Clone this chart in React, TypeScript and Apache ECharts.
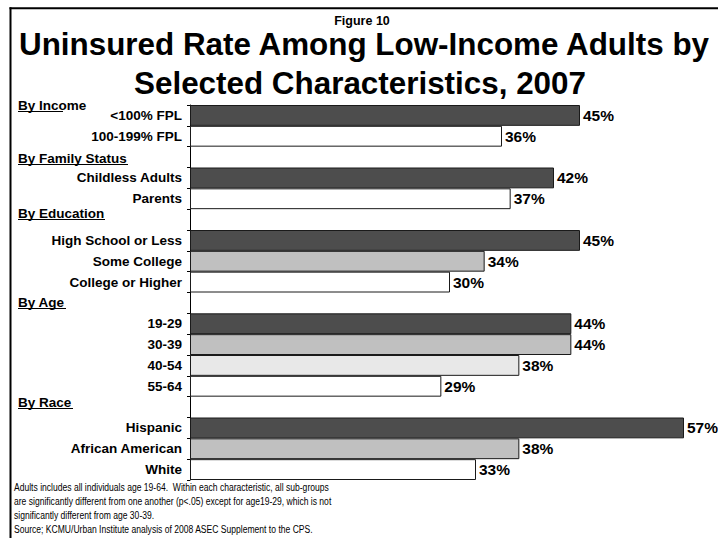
import React, { useEffect, useRef } from "react";
import * as echarts from "echarts";

const figureLabel = "Figure 10";
const titleLines = [
  "Uninsured Rate Among Low-Income Adults by",
  "Selected Characteristics, 2007",
];
const headers = ["By Income", "By Family Status", "By Education", "By Age", "By Race"];
const categories = [
  "<100% FPL", "100-199% FPL", "By Family Status",
  "Childless Adults", "Parents", "By Education",
  "High School or Less", "Some College", "College or Higher", "By Age",
  "19-29", "30-39", "40-54", "55-64", "By Race",
  "Hispanic", "African American", "White",
];
const values: (number | null)[] = [
  45, 36, null,
  42, 37, null,
  45, 34, 30, null,
  44, 44, 38, 29, null,
  57, 38, 33,
];
const barColors = [
  "#4d4d4d", "#ffffff", "#ffffff",
  "#4d4d4d", "#ffffff", "#ffffff",
  "#4d4d4d", "#c0c0c0", "#ffffff", "#ffffff",
  "#4d4d4d", "#c0c0c0", "#e8e8e8", "#ffffff", "#ffffff",
  "#4d4d4d", "#c0c0c0", "#ffffff",
];
const footnotes = [
  "Adults includes all individuals age 19-64.  Within each characteristic, all sub-groups",
  "are significantly different from one another (p<.05) except for age19-29, which is not",
  "significantly different from age 30-39.",
  "Source; KCMU/Urban Institute analysis of 2008 ASEC Supplement to the CPS.",
];

const headerY = [105, 158, 213, 302, 402];
const headerW = [45, 110, 87, 48, 55];
const footY = [487, 501, 515, 529];

export default function App() {
  const ref = useRef<HTMLDivElement>(null);
  useEffect(() => {
    document.body.style.margin = "0";
    const chart = echarts.init(ref.current!, null, { renderer: "svg" });
    const bold = "'Liberation Sans', Arial, sans-serif";
    const graphics: any[] = [
      { type: "line", shape: { x1: 9.5, y1: 8.3, x2: 718, y2: 8.3 }, style: { stroke: "#000", lineWidth: 2 } },
      { type: "line", shape: { x1: 10.5, y1: 7.3, x2: 10.5, y2: 538 }, style: { stroke: "#000", lineWidth: 2 } },
      {
        type: "text", x: 362, y: 21,
        style: { text: figureLabel, font: `bold 12.5px ${bold}`, fill: "#000", align: "center", verticalAlign: "middle" },
      },
      {
        type: "text", x: 364, y: 44.5,
        style: { text: titleLines[0], font: `bold 31.4px ${bold}`, fill: "#000", align: "center", verticalAlign: "middle" },
      },
      {
        type: "text", x: 360, y: 83,
        style: { text: titleLines[1], font: `bold 31.4px ${bold}`, fill: "#000", align: "center", verticalAlign: "middle" },
      },
    ];
    headers.forEach((h, i) => {
      graphics.push({
        type: "text", x: 18, y: headerY[i],
        style: { text: h, font: `bold 13.5px ${bold}`, fill: "#000", align: "left", verticalAlign: "middle" },
      });
      graphics.push({
        type: "line", shape: { x1: 18, y1: headerY[i] + 6.5, x2: 18 + headerW[i], y2: headerY[i] + 6.5 },
        style: { stroke: "#000", lineWidth: 1 },
      });
    });
    footnotes.forEach((t, i) => {
      graphics.push({
        type: "text", x: 14, y: footY[i], scaleX: 0.745,
        style: { text: t, font: `11.5px ${bold}`, fill: "#000", align: "left", verticalAlign: "middle" },
      });
    });

    chart.setOption({
      animation: false,
      backgroundColor: "#ffffff",
      grid: { left: 190, top: 105, width: 520, height: 375, containLabel: false },
      xAxis: { type: "value", min: 0, max: 60, show: false },
      yAxis: {
        type: "category",
        data: categories,
        inverse: true,
        axisLine: { show: true, lineStyle: { color: "#000", width: 1 } },
        axisTick: { show: true, length: 3, lineStyle: { color: "#000" } },
        axisLabel: {
          margin: 8,
          color: "#000",
          fontFamily: bold,
          fontWeight: "bold",
          fontSize: 13.5,
          formatter: (v: string) => (headers.includes(v) ? "" : v),
        },
      },
      series: [
        {
          type: "bar",
          barCategoryGap: 0,
          data: values.map((v, i) => ({
            value: v === null ? "-" : v,
            itemStyle: { color: barColors[i], borderColor: "#1a1a1a", borderWidth: 1 },
          })),
          label: {
            show: true,
            position: "right",
            distance: 3,
            formatter: (p: any) => `${p.value}%`,
            color: "#000",
            fontFamily: bold,
            fontWeight: "bold",
            fontSize: 15.5,
          },
        },
      ],
      graphic: graphics,
    });
    return () => chart.dispose();
  }, []);
  return <div ref={ref} style={{ width: 718, height: 538 }} />;
}
